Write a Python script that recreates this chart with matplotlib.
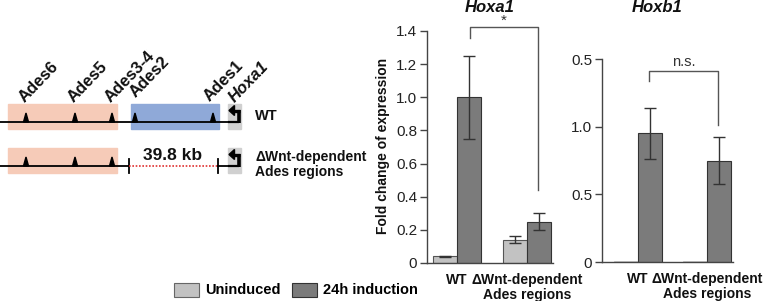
import matplotlib
matplotlib.use("Agg")
import matplotlib.pyplot as plt
from matplotlib.patches import Rectangle, Polygon, Patch

plt.rcParams['font.family'] = ['Liberation Sans', 'DejaVu Sans']

# ---------------- data ----------------
groups = ['WT', 'ΔWnt-dependent\nAdes regions']
series = ['Uninduced', '24h induction']

hoxa1_uninduced = [0.04, 0.14]
hoxa1_uninduced_err = [0.003, 0.022]
hoxa1_induced = [1.0, 0.25]
hoxa1_induced_err = [0.25, 0.052]
hoxa1_ticks = [0, 0.2, 0.4, 0.6, 0.8, 1.0, 1.2, 1.4]
hoxa1_ticklabels = ['0', '0.2', '0.4', '0.6', '0.8', '1.0', '1.2', '1.4']

hoxb1_uninduced = [0.004, 0.004]
hoxb1_induced = [0.95, 0.75]
hoxb1_induced_err = [0.19, 0.175]
hoxb1_ticks = [0, 0.5, 1.0, 1.5]
hoxb1_ticklabels = ['0', '0.5', '1.0', '0.5']

ades_labels = ['Ades6', 'Ades5', 'Ades3-4', 'Ades2', 'Ades1']

# ---------------- style ----------------
W, H = 770, 301
LIGHT = '#c2c2c2'
DARK = '#7b7b7b'
PINK = '#f6cbb8'
BLUE = '#8fa9d8'
GREYBOX = '#d0d0d0'

fig = plt.figure(figsize=(W / 100, H / 100), dpi=100)

def fx(x):
    return x / W

def fy(y):
    return 1 - y / H

# ---------------- diagram (pixel-space overlay) ----------------
ov = fig.add_axes([0, 0, 1, 1], zorder=0)
ov.set_xlim(0, W)
ov.set_ylim(H, 0)
ov.axis('off')

def promoter(ax, y):
    ax.add_patch(Rectangle((228, y - 18), 13, 25, color=GREYBOX, zorder=1))
    ax.plot([228, 239], [y, y], color='black', lw=1.6, zorder=3, solid_capstyle='butt')
    ax.plot([238.5, 238.5], [y + 0.8, y - 12.5], color='black', lw=2.6, zorder=3,
            solid_capstyle='butt')
    ax.plot([239.8, 233], [y - 11.5, y - 11.5], color='black', lw=2.4, zorder=3,
            solid_capstyle='butt')
    ax.add_patch(Polygon([[229, y - 11.5], [234.5, y - 16.5], [234.5, y - 6.5]],
                         closed=True, color='black', zorder=3))

def triangle(ax, x, y):
    ax.add_patch(Polygon([[x - 2.5, y], [x + 2.5, y], [x, y - 9]], closed=True,
                         color='black', zorder=3))

# WT row
y1 = 122
ov.add_patch(Rectangle((8, 104), 109, 25, color=PINK, zorder=1))
ov.add_patch(Rectangle((131, 104), 88, 25, color=BLUE, zorder=1))
ov.plot([0, 230], [y1, y1], color='black', lw=1.3, zorder=2)
ades_x = [26, 75, 112, 135, 213]
for ax_ in ades_x:
    triangle(ov, ax_, y1)
promoter(ov, y1)
label_pos = [(25, 103), (74, 103), (111, 103), (136, 98), (210, 102)]
for (lx, ly), lab in zip(label_pos, ades_labels):
    ov.text(lx, ly, lab, rotation=46, rotation_mode='anchor', ha='left', va='baseline',
            fontsize=12, fontweight='bold', color='#111')
ov.text(235, 103, 'Hoxa1', rotation=46, rotation_mode='anchor', ha='left', va='baseline',
        fontsize=12, fontweight='bold', fontstyle='italic', color='#111')
ov.text(255, 116, 'WT', ha='left', va='center', fontsize=10.5, fontweight='bold', color='#111')

# Deletion row
y2 = 166
ov.add_patch(Rectangle((8, 148), 109, 25, color=PINK, zorder=1))
ov.plot([0, 129], [y2, y2], color='black', lw=1.3, zorder=2)
for ax_ in ades_x[:3]:
    triangle(ov, ax_, y2)
ov.plot([129, 129], [y2 - 7, y2 + 7], color='black', lw=1.3, zorder=2)
ov.plot([129, 218], [y2, y2], color='#e03030', lw=1.2, ls=(0, (1, 1)), zorder=2)
ov.plot([218, 218], [y2 - 7, y2 + 7], color='black', lw=1.3, zorder=2)
ov.plot([218, 230], [y2, y2], color='black', lw=1.3, zorder=2)
promoter(ov, y2)
ov.text(173, 156, '39.8 kb', ha='center', va='center', fontsize=12.5, fontweight='bold', color='#111')
ov.text(255, 157, 'ΔWnt-dependent', ha='left', va='center', fontsize=10, fontweight='bold', color='#111')
ov.text(255, 172, 'Ades regions', ha='left', va='center', fontsize=10, fontweight='bold', color='#111')

# ---------------- bar charts ----------------
def style_axes(ax):
    for s in ['top', 'right']:
        ax.spines[s].set_visible(False)
    for s in ['left', 'bottom']:
        ax.spines[s].set_color('#444')
        ax.spines[s].set_linewidth(1.0)
    ax.tick_params(axis='y', direction='out', length=5, width=1, color='#444',
                   labelsize=11, labelcolor='#222', pad=2)
    ax.tick_params(axis='x', length=0, pad=7)
    ax.patch.set_alpha(0)

def bracket(ax, x0, x1, ytop, yl, yr, text, ty, fs):
    ax.plot([x0, x0, x1, x1], [yl, ytop, ytop, yr], color='#555', lw=1, clip_on=False)
    ax.text((x0 + x1) / 2, ty, text, ha='center', va='center', fontsize=fs, color='#333')

errkw = dict(ecolor='#333', elinewidth=1, capsize=4, capthick=1)
pos = [0, 1]

# Hoxa1
a1 = fig.add_axes([fx(427), fy(263), (553 - 427) / W, (263 - 31) / H], zorder=2)
bw = 24 / 70
a1.bar([p - bw / 2 for p in pos], hoxa1_uninduced, bw, yerr=hoxa1_uninduced_err,
       color=LIGHT, edgecolor='#555', lw=0.8, error_kw=errkw, label=series[0])
a1.bar([p + bw / 2 for p in pos], hoxa1_induced, bw, yerr=hoxa1_induced_err,
       color=DARK, edgecolor='#333', lw=0.8, error_kw=errkw, label=series[1])
a1.set_xlim(-30 / 70, 96 / 70)
a1.set_ylim(0, 1.4)
a1.set_yticks(hoxa1_ticks)
a1.set_yticklabels(hoxa1_ticklabels)
a1.set_xticks(pos)
a1.set_xticklabels(groups, fontsize=10, fontweight='bold', color='#111', linespacing=1.15)
style_axes(a1)
a1.set_ylabel('Fold change of expression', fontsize=10, fontweight='bold', color='#111')
a1.yaxis.set_label_coords(-37 / 126, 0.505)
a1.set_title('Hoxa1', fontsize=12, fontweight='bold', fontstyle='italic', color='#111',
             y=1.0, pad=14)
bracket(a1, 0.186, 1.157, 1.424, 1.358, 0.44, '*', 1.462, 11)

# Hoxb1
a2 = fig.add_axes([fx(602), fy(262), (733 - 602) / W, (262 - 59) / H], zorder=2)
bw2 = 24 / 69
a2.bar([p - bw2 / 2 for p in pos], hoxb1_uninduced, bw2,
       color=LIGHT, edgecolor=LIGHT, lw=0.5)
a2.bar([p + bw2 / 2 for p in pos], hoxb1_induced, bw2, yerr=hoxb1_induced_err,
       color=DARK, edgecolor='#333', lw=0.8, error_kw=errkw)
a2.set_xlim(-36 / 69, 95 / 69)
a2.set_ylim(0, 1.5)
a2.set_yticks(hoxb1_ticks)
a2.set_yticklabels(hoxb1_ticklabels)
a2.set_xticks(pos)
a2.set_xticklabels(groups, fontsize=10, fontweight='bold', color='#111', linespacing=1.15)
style_axes(a2)
bracket(a2, 0.16, 1.16, 1.411, 1.337, 1.012, 'n.s.', 1.48, 10.5)
a2.text(0.42, 1.0 + 52 / 203, 'Hoxb1', transform=a2.transAxes, ha='center', va='center',
        fontsize=12, fontweight='bold', fontstyle='italic', color='#111')

# Legend
handles = [Patch(facecolor=LIGHT, edgecolor='#666', lw=0.8, label=series[0]),
           Patch(facecolor=DARK, edgecolor='#333', lw=0.8, label=series[1])]
fig.legend(handles=handles, loc='center', bbox_to_anchor=(fx(296), fy(290)), ncol=2,
           frameon=False, handlelength=1.7, handleheight=1.1, handletextpad=0.4,
           columnspacing=0.8, prop=dict(size=10.5, weight='bold'))

fig.savefig('out.png', dpi=100)
